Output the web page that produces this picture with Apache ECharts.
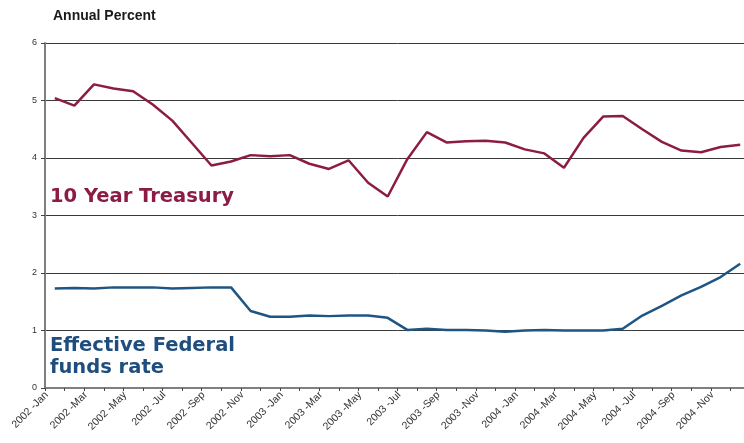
<!DOCTYPE html>
<html>
<head>
<meta charset="utf-8">
<script src="https://cdn.jsdelivr.net/npm/echarts@6/dist/echarts.min.js"></script>
<style>
html,body{margin:0;padding:0;background:#fff;overflow:hidden;width:744px;height:443px;}
#chart{width:750px;height:443px;}
</style>
</head>
<body>
<div id="chart"></div>
<script>
const months = [
  "2002 -Jan","2002 -Feb","2002 -Mar","2002 -Apr","2002 -May","2002 -Jun",
  "2002 -Jul","2002 -Aug","2002 -Sep","2002 -Oct","2002 -Nov","2002 -Dec",
  "2003 -Jan","2003 -Feb","2003 -Mar","2003 -Apr","2003 -May","2003 -Jun",
  "2003 -Jul","2003 -Aug","2003 -Sep","2003 -Oct","2003 -Nov","2003 -Dec",
  "2004 -Jan","2004 -Feb","2004 -Mar","2004 -Apr","2004 -May","2004 -Jun",
  "2004 -Jul","2004 -Aug","2004 -Sep","2004 -Oct","2004 -Nov","2004 -Dec"
];
const treasury10y = [
  5.04,4.91,5.28,5.21,5.16,4.93,4.65,4.26,3.87,3.94,4.05,4.03,
  4.05,3.90,3.81,3.96,3.57,3.33,3.98,4.45,4.27,4.29,4.30,4.27,
  4.15,4.08,3.83,4.35,4.72,4.73,4.50,4.28,4.13,4.10,4.19,4.23
];
const fedFunds = [
  1.73,1.74,1.73,1.75,1.75,1.75,1.73,1.74,1.75,1.75,1.34,1.24,
  1.24,1.26,1.25,1.26,1.26,1.22,1.01,1.03,1.01,1.01,1.00,0.98,
  1.00,1.01,1.00,1.00,1.00,1.03,1.26,1.43,1.61,1.76,1.93,2.16
];
const yTicks = [0,1,2,3,4,5,6];

const chart = echarts.init(document.getElementById('chart'), null, {renderer:'canvas'});
chart.setOption({
  backgroundColor:'#ffffff',
  animation:false,
  grid:{left:45, top:43, right:0, height:345, containLabel:false},
  graphic:[
    {type:'text', left:53, top:9, style:{text:'Annual Percent', font:'bold 14px Arial, "Liberation Sans"', fill:'#1a1a1a'}},
    {type:'text', left:50, top:187, style:{text:'10 Year Treasury', font:'bold 19.5px "DejaVu Sans", Verdana', fill:'#8c1c45'}},
    {type:'text', left:50, top:335, style:{text:'Effective Federal\nfunds rate', font:'bold 19.5px "DejaVu Sans", Verdana', lineHeight:22, fill:'#1f4e7e'}}
  ],
  xAxis:{
    type:'category',
    data:months,
    boundaryGap:true,
    axisLine:{lineStyle:{color:'#7f7f7f', width:2}},
    axisTick:{show:true, interval:0, length:3, lineStyle:{color:'#444'}},
    axisLabel:{interval:1, rotate:45, fontSize:10.5, color:'#333', fontFamily:'Arial, "Liberation Sans"',
               margin:5, verticalAlign:'bottom', padding:[0,6,0,0]}
  },
  yAxis:{
    type:'value',
    min:yTicks[0], max:yTicks[yTicks.length-1], interval:1,
    axisLine:{show:true, lineStyle:{color:'#7f7f7f', width:2}},
    axisTick:{show:true, length:4, lineStyle:{color:'#444'}},
    axisLabel:{fontSize:9, color:'#333', fontFamily:'Arial, "Liberation Sans"', margin:8},
    splitLine:{show:true, lineStyle:{color:'#3a3a3a', width:1}}
  },
  series:[
    {name:'10 Year Treasury', type:'line', data:treasury10y, symbol:'none',
     lineStyle:{color:'#8c1c45', width:2.5}},
    {name:'Effective Federal funds rate', type:'line', data:fedFunds, symbol:'none',
     lineStyle:{color:'#1f5583', width:2.5}}
  ]
});
</script>
</body>
</html>
